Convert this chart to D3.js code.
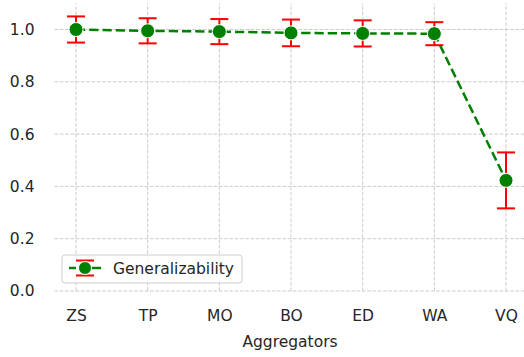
<!DOCTYPE html>
<html><head><meta charset="utf-8">
<script src="https://cdn.jsdelivr.net/npm/d3@7"></script>
<style>body{margin:0;background:#fff}svg{display:block;font-family:"DejaVu Sans",sans-serif}</style>
</head><body><svg id="c" width="524" height="357"></svg>
<script>
const categories = ["ZS","TP","MO","BO","ED","WA","VQ"];
const values = [1.0, 0.995, 0.992, 0.987, 0.985, 0.984, 0.423];
const errors = [0.050, 0.048, 0.048, 0.051, 0.050, 0.044, 0.107];
const yTicks = [0.0, 0.2, 0.4, 0.6, 0.8, 1.0];
const seriesName = "Generalizability";

const svg = d3.select("#c");
const y0 = 291, yUnit = 261.5;
const y = d3.scaleLinear().domain([0, 1.1]).range([y0, y0 - 1.1 * yUnit]);
const step = 71.67;
const x = d3.scalePoint().domain(categories).range([76, 76 + step * 6]);
const left = 76 - 0.3 * step, right = 76 + 6.3 * step;
const txt = "#262626";
const fs = 15.5;

// grid
const g = svg.append("g");
g.selectAll(".hg").data(yTicks).join("line")
  .attr("x1", left).attr("x2", right).attr("y1", d => y(d)).attr("y2", d => y(d))
  .attr("stroke", "#cccccc").attr("stroke-width", 1).attr("stroke-dasharray", "3.7,1.6");
g.selectAll(".vg").data(categories).join("line")
  .attr("x1", d => x(d)).attr("x2", d => x(d)).attr("y1", y(0)).attr("y2", y(1.1))
  .attr("stroke", "#cccccc").attr("stroke-width", 1).attr("stroke-dasharray", "3.7,1.6");

// axes (no lines)
const ya = svg.append("g").attr("transform", `translate(${left},0)`)
  .call(d3.axisLeft(y).tickValues(yTicks).tickFormat(d3.format(".1f")).tickSize(0).tickPadding(20));
ya.select(".domain").remove();
ya.selectAll("text").attr("font-size", fs).attr("fill", txt).attr("font-family", "DejaVu Sans");
const xa = svg.append("g").attr("transform", `translate(0,${y0})`)
  .call(d3.axisBottom(x).tickSize(0).tickPadding(19));
xa.select(".domain").remove();
xa.selectAll("text").attr("font-size", fs).attr("fill", txt).attr("font-family", "DejaVu Sans");
svg.append("text").attr("x", 290).attr("y", 347).attr("text-anchor", "middle")
  .attr("font-size", fs).attr("fill", txt).text("Aggregators");

// line
const data = categories.map((c, i) => ({c, v: values[i], e: errors[i]}));
svg.append("path").datum(data)
  .attr("d", d3.line().x(d => x(d.c)).y(d => y(d.v)))
  .attr("fill", "none").attr("stroke", "green").attr("stroke-width", 2.5)
  .attr("stroke-dasharray", "9.25,4");

// error bars
const eb = svg.append("g").selectAll("g").data(data).join("g");
eb.append("line").attr("x1", d => x(d.c)).attr("x2", d => x(d.c))
  .attr("y1", d => y(d.v - d.e)).attr("y2", d => y(d.v + d.e))
  .attr("stroke", "red").attr("stroke-width", 2);
eb.selectAll(".cap").data(d => [[d.c, d.v - d.e], [d.c, d.v + d.e]]).join("line")
  .attr("x1", d => x(d[0]) - 9).attr("x2", d => x(d[0]) + 9)
  .attr("y1", d => y(d[1])).attr("y2", d => y(d[1]))
  .attr("stroke", "red").attr("stroke-width", 2);

// markers
svg.append("g").selectAll("circle").data(data).join("circle")
  .attr("cx", d => x(d.c)).attr("cy", d => y(d.v)).attr("r", 7)
  .attr("fill", "green").attr("stroke", "white").attr("stroke-width", 1);

// legend
const lg = svg.append("g");
lg.append("rect").attr("x", 62).attr("y", 255).attr("width", 180).attr("height", 28).attr("rx", 3)
  .attr("fill", "white").attr("fill-opacity", 0.8).attr("stroke", "#cccccc").attr("stroke-width", 1);
const lx = 85, ly = 268;
lg.append("line").attr("x1", 69).attr("x2", 101).attr("y1", ly).attr("y2", ly)
  .attr("stroke", "green").attr("stroke-width", 2.5).attr("stroke-dasharray", "7,9,16,20");
lg.append("line").attr("x1", lx).attr("x2", lx).attr("y1", ly - 7.5).attr("y2", ly + 7.5)
  .attr("stroke", "red").attr("stroke-width", 2);
[ly - 7.5, ly + 7.5].forEach(yy => lg.append("line").attr("x1", lx - 9).attr("x2", lx + 9)
  .attr("y1", yy).attr("y2", yy).attr("stroke", "red").attr("stroke-width", 2));
lg.append("circle").attr("cx", lx).attr("cy", ly).attr("r", 6.5).attr("fill", "green")
  .attr("stroke", "white").attr("stroke-width", 1);
lg.append("text").attr("x", 113).attr("y", ly + 5.5).attr("font-size", fs).attr("fill", txt).text(seriesName);
</script></body></html>
